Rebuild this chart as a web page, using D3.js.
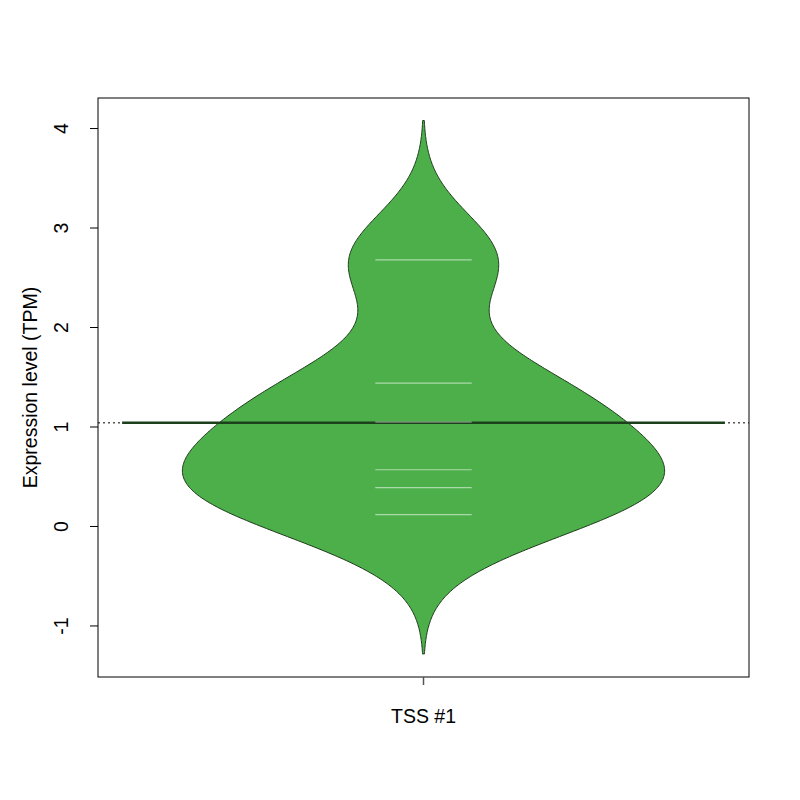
<!DOCTYPE html>
<html>
<head>
<meta charset="UTF-8">
<title>beanplot</title>
<script src="https://cdn.jsdelivr.net/npm/d3@7"></script>
<style>
  body { margin: 0; background: #fff; }
  text { font-family: "Liberation Sans", Arial, sans-serif; }
</style>
</head>
<body>
<svg width="800" height="800"></svg>
<script>
var groups = ["TSS #1"];
var values = [2.68, 1.44, 1.05, 0.57, 0.39, 0.12];
var yTicks = [-1, 0, 1, 2, 3, 4];
var bandwidth = 0.467;

var svg = d3.select("svg");
var padL = 98, padR = 749, padT = 98, padB = 677;
var fs = 19.5;

var x = d3.scaleLinear().domain([0.46, 1.54]).range([padL, padR]);
var y = d3.scaleLinear().domain([-1.513, 4.307]).range([padB, padT]);

// gaussian kernel density, cut at 3 bandwidths beyond the data
var lo = d3.min(values) - 3 * bandwidth, hi = d3.max(values) + 3 * bandwidth;
var grid = d3.range(0, 401).map(function(i){ return lo + (hi - lo) * i / 400; });
var dens = grid.map(function(g){
    return [g, d3.sum(values, function(v){
        var z = (g - v) / bandwidth;
        return Math.exp(-z * z / 2);
    })];
});
var maxD = d3.max(dens, function(d){ return d[1]; });
var w = d3.scaleLinear().domain([0, maxD]).range([0, 0.4]);

var mean = d3.mean(values);

// overall mean, dotted across the plot
svg.append("line")
    .attr("x1", padL).attr("x2", padR)
    .attr("y1", y(mean)).attr("y2", y(mean))
    .attr("stroke", "#000").attr("stroke-width", 1)
    .attr("stroke-dasharray", "2,3");

// bean
var area = d3.area()
    .y(function(d){ return y(d[0]); })
    .x0(function(d){ return x(1 - w(d[1])); })
    .x1(function(d){ return x(1 + w(d[1])); });
svg.append("path")
    .datum(dens)
    .attr("d", area)
    .attr("fill", "#4daf4a")
    .attr("stroke", "#1c3a1b")
    .attr("stroke-width", 1);

// group mean line
svg.append("line")
    .attr("x1", x(0.5)).attr("x2", x(1.5))
    .attr("y1", y(mean)).attr("y2", y(mean))
    .attr("stroke", "#1d401c").attr("stroke-width", 2.5);

// bean lines
svg.selectAll(".beanline")
    .data(values)
    .enter()
    .append("line")
    .attr("class", "beanline")
    .attr("x1", x(1 - 0.08)).attr("x2", x(1 + 0.08))
    .attr("y1", function(d){ return y(d); })
    .attr("y2", function(d){ return y(d); })
    .attr("stroke", "rgba(235,245,235,0.6)")
    .attr("stroke-width", 1.2);

// box
svg.append("rect")
    .attr("x", padL).attr("y", padT)
    .attr("width", padR - padL).attr("height", padB - padT)
    .attr("fill", "none").attr("stroke", "#000").attr("stroke-width", 1);

// y axis
var yAxis = svg.append("g");
yAxis.selectAll("line")
    .data(yTicks).enter().append("line")
    .attr("x1", padL - 8).attr("x2", padL)
    .attr("y1", function(d){ return y(d); })
    .attr("y2", function(d){ return y(d); })
    .attr("stroke", "#000");
yAxis.selectAll("text")
    .data(yTicks).enter().append("text")
    .attr("transform", function(d){ return "translate(68," + y(d) + ") rotate(-90)"; })
    .attr("text-anchor", "middle")
    .attr("font-size", fs)
    .text(function(d){ return d; });

svg.append("text")
    .attr("transform", "translate(37," + ((padT + padB) / 2) + ") rotate(-90)")
    .attr("text-anchor", "middle")
    .attr("font-size", fs)
    .text("Expression level (TPM)");

// x axis
svg.selectAll(".xtick")
    .data(groups).enter().append("line")
    .attr("class", "xtick")
    .attr("x1", function(d, i){ return x(i + 1); })
    .attr("x2", function(d, i){ return x(i + 1); })
    .attr("y1", padB).attr("y2", padB + 8)
    .attr("stroke", "#555").attr("stroke-width", 1.5);
svg.selectAll(".xlab")
    .data(groups).enter().append("text")
    .attr("class", "xlab")
    .attr("x", function(d, i){ return x(i + 1); })
    .attr("y", 723)
    .attr("text-anchor", "middle")
    .attr("font-size", fs)
    .text(function(d){ return d; });
</script>
</body>
</html>
